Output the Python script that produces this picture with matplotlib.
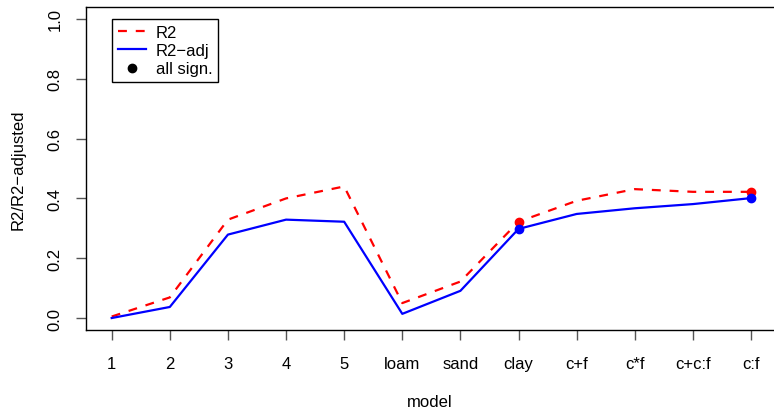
import numpy as np
import matplotlib.pyplot as plt
from matplotlib.lines import Line2D

plt.rcParams['font.family'] = ['Liberation Sans', 'DejaVu Sans']

models = ['1', '2', '3', '4', '5', 'loam', 'sand', 'clay', 'c+f', 'c*f', 'c+c:f', 'c:f']
r2 = [0.005, 0.069, 0.329, 0.400, 0.440, 0.050, 0.122, 0.322, 0.392, 0.431, 0.422, 0.422]
r2_adj = [0.0, 0.037, 0.279, 0.329, 0.322, 0.014, 0.091, 0.298, 0.348, 0.367, 0.381, 0.401]
all_sign = [False, False, False, False, False, False, False, True, False, False, False, True]

x = np.arange(1, len(models) + 1)
sig = np.array(all_sign)

fig = plt.figure(figsize=(7.74, 4.10), dpi=100)
W, H = 774, 410
ax = fig.add_axes([86 / W, 1 - 331 / H, (774 - 86) / W, (331 - 8) / H])

ax.plot(x, r2, color='red', lw=1.6, dashes=(4, 4))
ax.plot(x, r2_adj, color='blue', lw=1.6)
ax.plot(x[sig], np.array(r2)[sig], 'o', color='red', ms=6)
ax.plot(x[sig], np.array(r2_adj)[sig], 'o', color='blue', ms=6)

ax.set_xlim(1 - 25.7 / 58.12, 12 + 23 / 58.12)
ax.set_ylim(-0.04, 1.04)
ax.set_xticks(x)
ax.set_xticklabels(models)
ax.set_yticks([0, 0.2, 0.4, 0.6, 0.8, 1.0])
ax.set_yticklabels(['0.0', '0.2', '0.4', '0.6', '0.8', '1.0'], rotation=90, va='center')

ax.spines['right'].set_visible(False)
for s in ['left', 'bottom', 'top']:
    ax.spines[s].set_linewidth(1.0)
ax.tick_params(axis='both', length=7, width=1, color='#555555', labelsize=12)
ax.tick_params(axis='x', pad=12)
ax.tick_params(axis='y', pad=10)

ax.set_xlabel('model', fontsize=12, labelpad=16)
ax.set_ylabel('R2/R2\u2212adjusted', fontsize=12, labelpad=16)

# legend in the top-left corner, R style
handles = [Line2D([], [], color='red', lw=1.6, dashes=(4, 4)),
           Line2D([], [], color='blue', lw=1.6),
           Line2D([], [], color='black', marker='o', ls='', ms=6)]
leg = ax.legend(handles, ['R2', 'R2\u2212adj', 'all sign.'], loc='upper left',
                bbox_to_anchor=(1, 1.0), bbox_transform=ax.transData,
                fancybox=False, edgecolor='black', framealpha=1, fontsize=12,
                labelspacing=0.2, handlelength=1.7, handletextpad=0.6,
                borderpad=0.35, borderaxespad=0)
leg.get_frame().set_linewidth(1.0)

fig.savefig('out.png', dpi=100)
